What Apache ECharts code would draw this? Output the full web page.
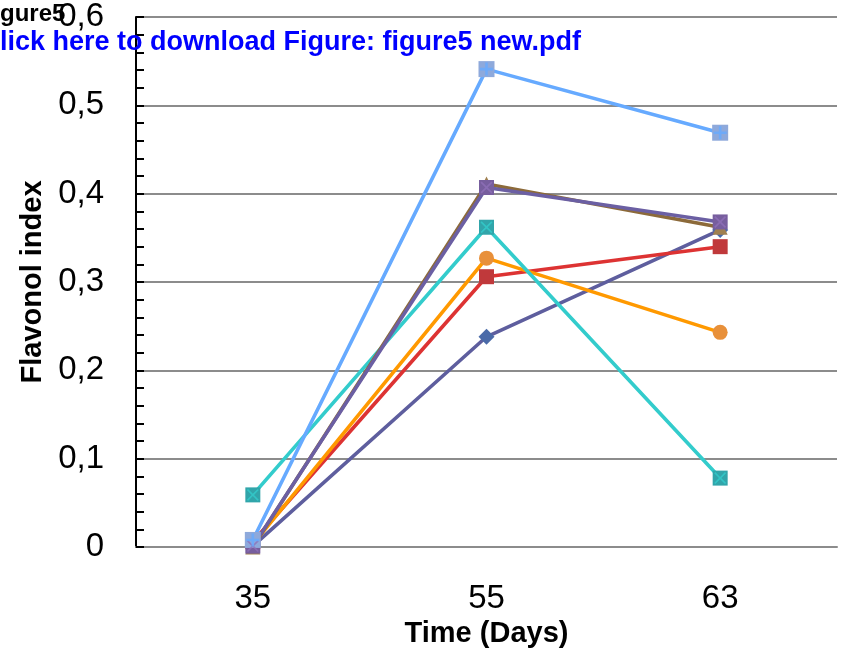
<!DOCTYPE html>
<html><head><meta charset="utf-8">
<script src="https://cdn.jsdelivr.net/npm/echarts@6/dist/echarts.min.js"></script>
<style>html,body{margin:0;padding:0;background:#fff}#c{width:846px;height:656px}</style>
</head><body><div id="c"></div>
<script>
const categories = ['35', '55', '63'];
const yTicks = [0, 0.1, 0.2, 0.3, 0.4, 0.5, 0.6];
const seriesDiamond = [0.001, 0.238, 0.359];
const seriesRed = [0.006, 0.306, 0.340];
const seriesOrange = [0.003, 0.327, 0.243];
const seriesTeal = [0.059, 0.362, 0.078];
const seriesBrown = [0.0, 0.411, 0.362];
const seriesPurple = [0.001, 0.407, 0.368];
const seriesLightBlue = [0.008, 0.541, 0.469];

const PLUS = 'path://M4,0H6V4H10V6H6V10H4V6H0V4H4Z';
const CROSS = 'path://M0,1L1,0L5,4L9,0L10,1L6,5L10,9L9,10L5,6L1,10L0,9L4,5Z';

function line(name, data, lineColor, markColor, symbol, size) {
  return {
    name, type: 'line', data, symbol, symbolSize: size, z: 3,
    lineStyle: { color: lineColor, width: 3.6 },
    itemStyle: { color: markColor, borderWidth: 0 },
    emphasis: { disabled: true }, animation: false
  };
}
function overlay(data, color, symbol, size) {
  return {
    type: 'scatter', data, symbol, symbolSize: size, z: 4,
    itemStyle: { color }, emphasis: { disabled: true }, animation: false, silent: true
  };
}

const chart = echarts.init(document.getElementById('c'), null, { renderer: 'canvas' });
chart.setOption({
  animation: false,
  grid: { left: 136, right: 9, top: 17, bottom: 109, containLabel: false },
  xAxis: {
    type: 'category', data: categories, boundaryGap: true,
    axisLine: { lineStyle: { color: '#8c8c8c', width: 2 } },
    axisTick: { inside: true, length: 13, lineStyle: { color: '#8c8c8c', width: 2 } },
    axisLabel: { fontFamily: 'Liberation Sans', fontSize: 33, color: '#000', margin: 35 },
    name: 'Time (Days)', nameLocation: 'middle', nameGap: 72,
    nameTextStyle: { fontFamily: 'Liberation Sans', fontWeight: 'bold', fontSize: 29, color: '#000' }
  },
  yAxis: {
    type: 'value', min: yTicks[0], max: yTicks[yTicks.length - 1], interval: 0.1,
    axisLine: { show: true, lineStyle: { color: '#000', width: 2 } },
    axisTick: { show: true, inside: true, length: 8, lineStyle: { color: '#000', width: 2 } },
    minorTick: { show: true, splitNumber: 5, length: 8, lineStyle: { color: '#000', width: 2 } },
    splitLine: { show: true, lineStyle: { color: '#8c8c8c', width: 2 } },
    axisLabel: {
      fontFamily: 'Liberation Sans', fontSize: 33, color: '#000', margin: 32,
      formatter: v => (v === 0 ? '0' : v.toFixed(1).replace('.', ','))
    },
    name: 'Flavonol index', nameLocation: 'middle', nameGap: 89,
    nameTextStyle: { fontFamily: 'Liberation Sans', fontWeight: 'bold', fontSize: 29, color: '#000' }
  },
  series: [
    line('d1', seriesDiamond, '#5E5E9E', '#4A6AA8', 'diamond', 16),
    line('d2', seriesRed, '#DD3333', '#C0393B', 'rect', 15),
    line('d3', seriesOrange, '#FF9900', '#E8903A', 'circle', 15),
    line('d4', seriesTeal, '#33CCCC', '#31A5AA', 'rect', 15),
    overlay(seriesTeal, '#33CCCC', CROSS, 12),
    line('d5', seriesBrown, '#8C6A3A', '#A08050', 'triangle', 15),
    line('d6', seriesPurple, '#6B5FA3', '#775E9E', 'rect', 15),
    overlay(seriesPurple, '#8E6FB8', CROSS, 12),
    line('d7', seriesLightBlue, '#66AAFF', '#8EA9DB', 'rect', 16),
    overlay(seriesLightBlue, '#66AAFF', PLUS, 13)
  ],
  graphic: [
    { type: 'text', left: 0, top: 2, z: 10,
      style: { text: 'gure5', font: 'bold 24px "Liberation Sans"', fill: '#000' } },
    { type: 'text', left: 0, top: 29, z: 10,
      style: { text: 'lick here to download Figure: figure5 new.pdf', font: 'bold 27px "Liberation Sans"', fill: '#0000FF' } }
  ]
});
</script></body></html>
